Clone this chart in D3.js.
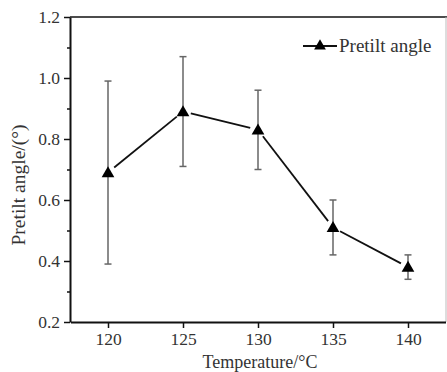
<!DOCTYPE html>
<html>
<head>
<meta charset="utf-8">
<script src="https://cdn.jsdelivr.net/npm/d3@7"></script>
<style>
  body { margin: 0; background: #fff; }
</style>
</head>
<body>
<svg id="chart" width="447" height="372"></svg>
<script>
// data
var temps = [120, 125, 130, 135, 140];
var angles = [0.69, 0.89, 0.83, 0.51, 0.38];
var errLow = [0.39, 0.71, 0.70, 0.42, 0.34];
var errHigh = [0.99, 1.07, 0.96, 0.60, 0.42];
var yTicks = [0.2, 0.4, 0.6, 0.8, 1.0, 1.2];
var yMinor = [0.3, 0.5, 0.7, 0.9, 1.1];
var seriesName = "Pretilt angle";

var m = [17, 1, 50, 70]; // top right bottom left
var W = 447, H = 372;
var FONT = "'Liberation Serif', 'Times New Roman', serif";

var svg = d3.select("#chart");

var x = d3.scaleLinear().domain([117.5, 142.5]).range([m[3] + 0.5, W - m[1] - 0.5]);
var y = d3.scaleLinear().domain([0.2, 1.2]).range([H - m[2], m[0]]);

// frame top / right
svg.append("line")
  .attr("x1", m[3]).attr("x2", W).attr("y1", m[0]).attr("y2", m[0])
  .attr("stroke", "#111").attr("stroke-width", 1.5);
svg.append("line")
  .attr("x1", W - m[1]).attr("x2", W - m[1]).attr("y1", m[0]).attr("y2", H - m[2])
  .attr("stroke", "#bbb").attr("stroke-width", 1);

// minor y ticks
svg.append("g")
  .attr("transform", "translate(" + m[3] + ",0)")
  .call(d3.axisLeft(y).tickValues(yMinor).tickSize(3).tickFormat(""))
  .call(function(g) { g.select(".domain").remove(); g.selectAll("line").attr("stroke", "#111").attr("stroke-width", 1.5); });

// y axis
var yAxis = svg.append("g")
  .attr("transform", "translate(" + m[3] + ",0)")
  .call(d3.axisLeft(y).tickValues(yTicks).tickSize(6).tickSizeOuter(0).tickFormat(d3.format(".1f")));
yAxis.select(".domain").attr("stroke", "#111").attr("stroke-width", 2);
yAxis.selectAll("line").attr("stroke", "#111").attr("stroke-width", 1.5);
yAxis.selectAll("text")
  .style("font-family", FONT).style("font-size", "17.5px").style("fill", "#333")
  .attr("x", -10);

// x axis
var xAxis = svg.append("g")
  .attr("transform", "translate(0," + (H - m[2]) + ")")
  .call(d3.axisBottom(x).tickValues(temps).tickSize(6).tickSizeOuter(0));
xAxis.select(".domain").attr("stroke", "#111").attr("stroke-width", 2);
xAxis.selectAll("line").attr("stroke", "#111").attr("stroke-width", 1.5);
xAxis.selectAll("text")
  .style("font-family", FONT).style("font-size", "17.5px").style("fill", "#333")
  .attr("y", 11);

// axis titles
svg.append("text")
  .attr("x", 260).attr("y", 368)
  .attr("text-anchor", "middle")
  .style("font-family", FONT).style("font-size", "18px").style("fill", "#333")
  .text("Temperature/\u00B0C");
svg.append("text")
  .attr("transform", "translate(25,185) rotate(-90)")
  .attr("text-anchor", "middle")
  .style("font-family", FONT).style("font-size", "19.5px").style("fill", "#333")
  .text("Pretilt angle/(\u00B0)");

var pts = temps.map(function(t, i) {
  return { t: t, v: angles[i], lo: errLow[i], hi: errHigh[i] };
});

// error bars
var eb = svg.append("g").attr("stroke", "#666").attr("stroke-width", 1.5);
pts.forEach(function(d) {
  var cx = x(d.t);
  eb.append("line").attr("x1", cx).attr("x2", cx).attr("y1", y(d.lo)).attr("y2", y(d.hi));
  eb.append("line").attr("x1", cx - 3.5).attr("x2", cx + 3.5).attr("y1", y(d.lo)).attr("y2", y(d.lo));
  eb.append("line").attr("x1", cx - 3.5).attr("x2", cx + 3.5).attr("y1", y(d.hi)).attr("y2", y(d.hi));
});

// connecting segments, stopping short of the markers
var gap = 8;
for (var i = 0; i < pts.length - 1; i++) {
  var x1 = x(pts[i].t), y1 = y(pts[i].v), x2 = x(pts[i + 1].t), y2 = y(pts[i + 1].v);
  var len = Math.sqrt((x2 - x1) * (x2 - x1) + (y2 - y1) * (y2 - y1));
  var ux = (x2 - x1) / len, uy = (y2 - y1) / len;
  svg.append("line")
    .attr("x1", x1 + ux * gap).attr("y1", y1 + uy * gap)
    .attr("x2", x2 - ux * gap).attr("y2", y2 - uy * gap)
    .attr("stroke", "#111").attr("stroke-width", 1.8);
}

// markers
var tri = d3.symbol().type(d3.symbolTriangle).size(70);
svg.selectAll("path.mark")
  .data(pts)
  .enter()
  .append("path")
  .attr("class", "mark")
  .attr("d", tri)
  .attr("transform", function(d) { return "translate(" + x(d.t) + "," + (y(d.v) + 1) + ")"; })
  .attr("fill", "#000");

// legend
var lg = svg.append("g").attr("transform", "translate(303,46)");
lg.append("line").attr("x1", 0).attr("x2", 34).attr("stroke", "#111").attr("stroke-width", 1.8);
lg.append("path").attr("d", d3.symbol().type(d3.symbolTriangle).size(60)).attr("transform", "translate(17,0)").attr("fill", "#000");
lg.append("text").attr("x", 36).attr("y", 6)
  .style("font-family", FONT).style("font-size", "19px").style("fill", "#333")
  .text(seriesName);
</script>
</body>
</html>
